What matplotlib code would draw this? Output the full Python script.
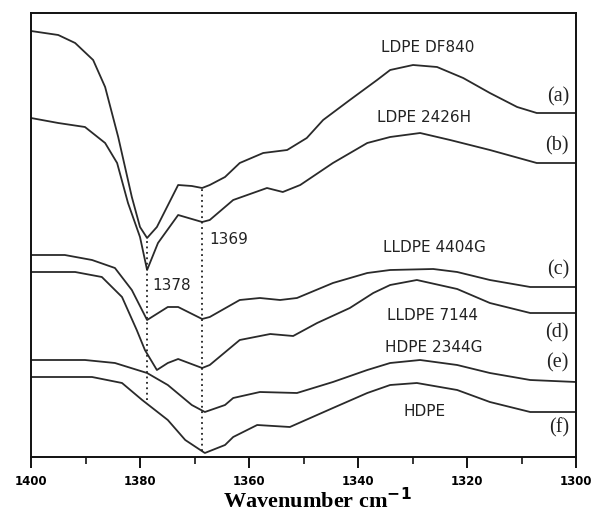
import matplotlib
matplotlib.use("Agg")
import matplotlib.pyplot as plt
from matplotlib.ticker import MultipleLocator

# ---- data (wavenumber, offset absorbance in arbitrary units) ----
wn_a = [1400, 1395.0, 1391.9, 1388.6, 1386.4, 1384.0, 1381.5, 1380.0, 1378.7, 1376.9, 1373.0, 1370.5, 1368.6, 1367.2, 1364.4, 1361.7, 1357.4, 1353.0, 1349.4, 1346.4, 1341.5, 1336.5, 1334.1, 1329.9, 1325.5, 1320.7, 1315.8, 1310.8, 1307.2, 1300]
ab_a = [426, 422, 414, 397, 370, 320, 260, 230, 219, 230, 272, 271, 269, 272, 280, 294, 304, 307, 319, 337, 357, 377, 387, 392, 390, 379, 364, 350, 344, 344]

wn_b = [1400, 1395.0, 1390.1, 1386.4, 1384.2, 1382.2, 1380.0, 1378.7, 1376.7, 1373.0, 1368.6, 1367.2, 1362.9, 1356.7, 1353.8, 1350.6, 1344.6, 1338.3, 1334.1, 1328.6, 1323.1, 1315.8, 1307.2, 1300]
ab_b = [339, 334, 330, 314, 294, 254, 220, 187, 214, 242, 235, 237, 257, 269, 265, 272, 294, 314, 320, 324, 317, 307, 294, 294]

wn_c = [1400, 1393.8, 1388.8, 1384.6, 1381.5, 1378.7, 1374.9, 1373.0, 1368.6, 1367.2, 1361.7, 1358.0, 1354.3, 1351.2, 1344.6, 1338.3, 1334.1, 1326.2, 1321.8, 1315.8, 1308.4, 1300]
ab_c = [202, 202, 197, 189, 167, 137, 150, 150, 138, 140, 157, 159, 157, 159, 174, 184, 187, 188, 185, 177, 170, 170]

wn_d = [1400, 1391.9, 1387.0, 1383.3, 1380.6, 1379.1, 1376.9, 1374.9, 1373.0, 1368.6, 1367.2, 1361.7, 1356.1, 1351.9, 1347.5, 1341.5, 1337.2, 1334.1, 1329.2, 1321.8, 1315.8, 1308.4, 1300]
ab_d = [185, 185, 180, 160, 127, 107, 87, 94, 98, 89, 92, 117, 123, 121, 134, 149, 164, 172, 177, 168, 154, 144, 144]

wn_e = [1400, 1390.1, 1384.6, 1378.7, 1374.9, 1370.5, 1368.1, 1364.4, 1362.9, 1358.0, 1351.2, 1344.6, 1338.3, 1334.1, 1328.6, 1321.8, 1315.8, 1308.4, 1300]
ab_e = [97, 97, 94, 84, 72, 52, 45, 52, 59, 65, 64, 75, 87, 94, 97, 92, 84, 77, 75]

wn_f = [1400, 1388.8, 1383.3, 1379.6, 1374.9, 1371.7, 1368.1, 1364.4, 1362.9, 1358.5, 1352.5, 1344.6, 1338.3, 1334.1, 1329.2, 1321.8, 1315.8, 1308.4, 1300]
ab_f = [80, 80, 74, 57, 37, 17, 4, 12, 20, 32, 30, 49, 64, 72, 74, 67, 55, 45, 45]

sample_names = ["LDPE DF840", "LDPE 2426H", "LLDPE 4404G", "LLDPE 7144", "HDPE 2344G", "HDPE"]
name_pos_wn = [1327.2, 1327.9, 1325.9, 1326.4, 1326.1, 1327.7]
name_pos_ab = [410, 340, 209, 141, 110, 46]

curve_tags = ["(a)", "(b)", "(c)", "(d)", "(e)", "(f)"]
tag_pos_ab = [360, 311, 187, 124, 94, 29]
tag_wn = 1301.3

peak_wn = [1378.7, 1368.6]
peak_labels = ["1378", "1369"]
peak_line_top = [219, 269]
peak_line_bottom = [57, 6]
peak_label_wn = [1377.8, 1367.2]
peak_label_ab = [172, 217]

xticks = [1400, 1380, 1360, 1340, 1320, 1300]

# ---- figure ----
fig = plt.figure(figsize=(5.91, 5.20), dpi=100)
ax = fig.add_axes([31/591, 1 - 457/520, (576 - 31)/591, (457 - 13)/520])

lc = "#2a2a2a"
for wn, ab in [(wn_a, ab_a), (wn_b, ab_b), (wn_c, ab_c), (wn_d, ab_d), (wn_e, ab_e), (wn_f, ab_f)]:
    ax.plot(wn, ab, color=lc, lw=1.3, solid_joinstyle="round")

for w, top, bot in zip(peak_wn, peak_line_top, peak_line_bottom):
    ax.plot([w, w], [bot, top], color="#222222", lw=1.3, linestyle=(0, (1, 2)))

for lab, w, y in zip(peak_labels, peak_label_wn, peak_label_ab):
    ax.text(w, y, lab, fontsize=11, color="#222222", ha="left", va="center",
            family="DejaVu Sans")

for name, w, y in zip(sample_names, name_pos_wn, name_pos_ab):
    ax.text(w, y, name, fontsize=11, color="#222222", ha="center", va="center",
            family="DejaVu Sans")

for tag, y in zip(curve_tags, tag_pos_ab):
    ax.text(tag_wn, y, tag, fontsize=14.5, color="#222222", ha="right", va="center",
            family="Liberation Serif")

ax.set_xlim(1400, 1300)
ax.set_ylim(0, 444)
ax.set_xticks(xticks)
ax.set_xticklabels([str(t) for t in xticks], fontsize=8.5, fontweight="bold",
                   family="DejaVu Sans")
ax.xaxis.set_minor_locator(MultipleLocator(10))
ax.tick_params(axis="x", which="major", direction="out", length=8, width=1.3, pad=5)
ax.tick_params(axis="x", which="minor", direction="out", length=5, width=1.1)
ax.set_yticks([])
for s in ax.spines.values():
    s.set_linewidth(1.4)
    s.set_color("#111111")

ax.set_xlabel("Wavenumber cm$^{\\mathbf{-1}}$", fontsize=16, fontweight="bold",
              family="Liberation Serif")
ax.xaxis.set_label_coords((317 - 31) / (576 - 31), -(488 - 457) / (457 - 13))

fig.savefig("out.png", dpi=100)
